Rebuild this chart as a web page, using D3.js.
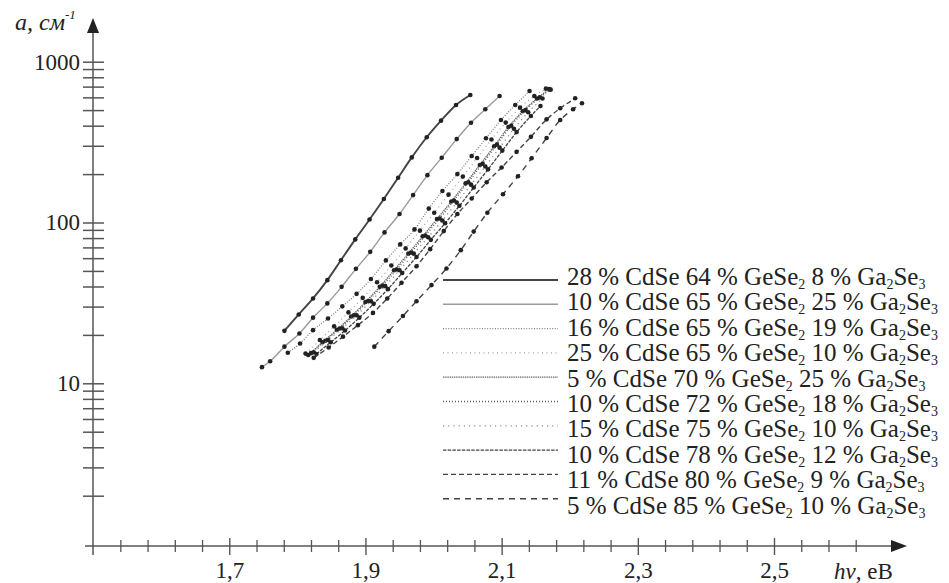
<!DOCTYPE html>
<html>
<head>
<meta charset="utf-8">
<title>absorption edge</title>
<style>
  body { margin: 0; background: #fff; }
</style>
</head>
<body>
<script src="https://d3js.org/d3.v7.min.js"></script>
<script>

var width = 949,
    height = 583;

var serif = '"Liberation Serif", "Times New Roman", Tinos, "DejaVu Serif", "Noto Serif", Times, serif';

// legend labels, "_n" marks a subscript
var labels = [
    "28 % CdSe 64 % GeSe_2 8 % Ga_2Se_3",
    "10 % CdSe 65 % GeSe_2 25 % Ga_2Se_3",
    "16 % CdSe 65 % GeSe_2 19 % Ga_2Se_3",
    "25 % CdSe 65 % GeSe_2 10 % Ga_2Se_3",
    "5 % CdSe 70 % GeSe_2 25 % Ga_2Se_3",
    "10 % CdSe 72 % GeSe_2 18 % Ga_2Se_3",
    "15 % CdSe 75 % GeSe_2 10 % Ga_2Se_3",
    "10 % CdSe 78 % GeSe_2 12 % Ga_2Se_3",
    "11 % CdSe 80 % GeSe_2 9 % Ga_2Se_3",
    "5 % CdSe 85 % GeSe_2 10 % Ga_2Se_3"
];

// photon energy hv (eV) and absorption coefficient a (cm^-1) per sample
var hv1 = [1.781, 1.802, 1.823, 1.844, 1.864, 1.885, 1.906, 1.927, 1.948, 1.968, 1.990, 2.011, 2.033, 2.054];
var a1  = [21.2, 26.8, 33.7, 43.8, 58.3, 78.5, 104.5, 140, 190, 254, 339, 430, 538, 621];

var hv2 = [1.748, 1.760, 1.781, 1.803, 1.823, 1.844, 1.865, 1.886, 1.907, 1.928, 1.950, 1.970, 1.991, 2.012, 2.034, 2.055, 2.076, 2.097];
var a2  = [12.6, 13.7, 16.9, 20.4, 25.6, 31.4, 39.8, 51.5, 65.7, 86.8, 113, 148, 197, 253, 330, 417, 506, 612];

var hv3 = [1.786, 1.804, 1.823, 1.845, 1.866, 1.887, 1.908, 1.930, 1.951, 1.972, 1.993, 2.013, 2.035, 2.056, 2.077, 2.099, 2.120, 2.141];
var a3  = [15.5, 17.7, 21.4, 25.3, 30.1, 36.0, 44.5, 58.1, 73.1, 90.6, 122, 157, 200, 259, 334, 434, 538, 657];

var hv4 = [1.812, 1.833, 1.854, 1.875, 1.896, 1.917, 1.938, 1.959, 1.980, 2.001, 2.022, 2.043, 2.064, 2.085, 2.106, 2.127, 2.148, 2.165];
var a4  = [15.3, 18.6, 22.6, 27.6, 34.0, 42.5, 54, 69, 89, 115, 149, 193, 252, 328, 418, 518, 612, 680];

var hv5 = [1.816, 1.837, 1.858, 1.879, 1.900, 1.921, 1.942, 1.963, 1.984, 2.005, 2.026, 2.047, 2.068, 2.089, 2.110, 2.131, 2.152, 2.170];
var a5  = [15.0, 18.0, 21.5, 26.0, 32.0, 39.8, 50.5, 64, 82, 105, 135, 175, 228, 298, 392, 492, 590, 675];

var hv6 = [1.820, 1.841, 1.862, 1.883, 1.904, 1.925, 1.946, 1.967, 1.988, 2.009, 2.030, 2.051, 2.072, 2.093, 2.114, 2.135, 2.156, 2.172];
var a6  = [15.4, 18.4, 21.9, 26.5, 32.5, 40.5, 51, 65, 83, 106, 137, 178, 232, 305, 400, 500, 600, 670];

var hv7 = [1.824, 1.845, 1.866, 1.887, 1.908, 1.929, 1.950, 1.971, 1.992, 2.013, 2.034, 2.055, 2.076, 2.097, 2.118, 2.139, 2.160];
var a7  = [15.6, 18.6, 22.0, 26.5, 32.4, 40.2, 50.5, 64, 81, 103, 133, 172, 223, 292, 383, 485, 590];

var hv8 = [1.828, 1.849, 1.870, 1.891, 1.912, 1.933, 1.954, 1.975, 1.996, 2.017, 2.038, 2.059, 2.080, 2.101, 2.122, 2.143, 2.157];
var a8  = [15.2, 18.0, 21.3, 25.6, 31.2, 38.5, 48.5, 61, 78, 99, 127, 165, 214, 280, 365, 460, 530];

var hv9 = [1.824, 1.846, 1.867, 1.889, 1.911, 1.932, 1.953, 1.975, 1.995, 2.015, 2.035, 2.056, 2.078, 2.100, 2.122, 2.143, 2.166, 2.186, 2.208];
var a9  = [14.4, 16.7, 19.5, 23.0, 27.4, 33.7, 42.2, 53.5, 68.3, 88.4, 113, 141, 178, 220, 275, 341, 438, 513, 592];

var hv10 = [1.913, 1.934, 1.955, 1.975, 1.997, 2.019, 2.040, 2.059, 2.079, 2.102, 2.124, 2.144, 2.166, 2.186, 2.205, 2.218];
var a10  = [16.9, 21.1, 26.2, 32.4, 40.8, 51.8, 67.3, 87.8, 115, 150, 194, 251, 335, 434, 506, 551];

// axis ticks
var xMajor = [1.7, 1.9, 2.1, 2.3, 2.5];
var xMajorLabels = ["1,7", "1,9", "2,1", "2,3", "2,5"];
var xMinor = [1.54, 1.58, 1.62, 1.66, 1.74, 1.78, 1.82, 1.86, 1.94, 1.98, 2.02, 2.06,
              2.14, 2.18, 2.22, 2.26, 2.34, 2.38, 2.42, 2.46, 2.54, 2.58, 2.62];
var yTicks = [2, 3, 4, 5, 6, 7, 8, 9, 10, 20, 30, 40, 50, 60, 70, 80, 90, 100,
              200, 300, 400, 500, 600, 700, 800, 900, 1000];
var yLabelled = [10, 100, 1000];

var hvs = [hv1, hv2, hv3, hv4, hv5, hv6, hv7, hv8, hv9, hv10];
var alphas = [a1, a2, a3, a4, a5, a6, a7, a8, a9, a10];

// line look for each sample (same order as labels)
var styles = [
    {stroke: '#444',    w: 1.9, dash: null},
    {stroke: '#9a9a9a', w: 1.4, dash: null},
    {stroke: '#808080', w: 1.3, dash: '1,1.6'},
    {stroke: '#a0a0a0', w: 1.2, dash: '1,3.5'},
    {stroke: '#666',    w: 1.3, dash: '1.4,0.8'},
    {stroke: '#5a5a5a', w: 1.3, dash: '1,2'},
    {stroke: '#8a8a8a', w: 1.3, dash: '1.2,4'},
    {stroke: '#444',    w: 1.3, dash: '3.5,1.2'},
    {stroke: '#444',    w: 1.4, dash: '5,3'},
    {stroke: '#444',    w: 1.4, dash: '6,5'}
];

var x0 = 93, xAxisY = 546;

var x = d3.scaleLinear()
    .domain([1.5, 2.5])
    .range([93.1, 774]);

var y = d3.scaleLog()
    .domain([1, 1000])
    .range([544.1, 61.7]);

var svg = d3.select('body').append('svg')
    .attr('width', width)
    .attr('height', height)
    .style('font-family', serif);

var axisColor = '#555';

// y axis
var yAxis = svg.append('g')
    .attr('transform', 'translate(' + x0 + ',0)')
    .call(d3.axisLeft(y)
        .tickValues(yTicks)
        .tickSize(10)
        .tickPadding(3)
        .tickFormat(function (d) { return yLabelled.indexOf(d) >= 0 ? d : ''; }));
yAxis.attr('font-family', null);
yAxis.select('.domain').remove();
yAxis.selectAll('.tick line').attr('x1', 11).attr('stroke', axisColor).attr('stroke-width', 1.5);
yAxis.selectAll('.tick text').attr('font-size', 23).style('font-family', serif).attr('fill', '#222');

// x axis, minor ticks then major ticks
var xMinorAxis = svg.append('g')
    .attr('transform', 'translate(0,' + xAxisY + ')')
    .call(d3.axisBottom(x).tickValues(xMinor).tickSize(6).tickFormat(''));
xMinorAxis.select('.domain').remove();
xMinorAxis.selectAll('.tick line').attr('y1', -6).attr('stroke', axisColor).attr('stroke-width', 1.3);

var xAxis = svg.append('g')
    .attr('transform', 'translate(0,' + xAxisY + ')')
    .call(d3.axisBottom(x)
        .tickValues(xMajor)
        .tickSize(9)
        .tickFormat(function (d, i) { return xMajorLabels[i]; }));
xAxis.attr('font-family', null);
xAxis.select('.domain').remove();
xAxis.selectAll('.tick line').attr('y1', -8).attr('stroke', axisColor).attr('stroke-width', 1.4);
xAxis.selectAll('.tick text')
    .attr('y', 32).attr('dy', 0)
    .attr('font-size', 23).style('font-family', serif).attr('fill', '#222');

// axis lines with arrow heads
svg.append('line')
    .attr('x1', 85).attr('x2', 893).attr('y1', xAxisY).attr('y2', xAxisY)
    .attr('stroke', axisColor).attr('stroke-width', 1.5);
svg.append('path')
    .attr('d', 'M907,' + xAxisY + 'L891,' + (xAxisY - 6) + 'L891,' + (xAxisY + 6) + 'Z')
    .attr('fill', '#222');
svg.append('line')
    .attr('x1', x0).attr('x2', x0).attr('y1', 555).attr('y2', 30)
    .attr('stroke', axisColor).attr('stroke-width', 1.5);
svg.append('path')
    .attr('d', 'M' + x0 + ',18L' + (x0 - 6) + ',33L' + (x0 + 6) + ',33Z')
    .attr('fill', '#222');

// axis titles
var yt = svg.append('text')
    .attr('x', 15).attr('y', 30)
    .attr('font-size', 24).attr('font-style', 'italic')
    .attr('fill', '#222');
yt.append('tspan').text('a, см');
yt.append('tspan').attr('dy', -11).attr('font-size', 13).text('-1');

var xt = svg.append('text')
    .attr('x', 834).attr('y', 579)
    .attr('font-size', 23)
    .attr('fill', '#222');
xt.append('tspan').attr('font-style', 'italic').text('hν,');
xt.append('tspan').text(' еВ');

// curves
var line = d3.line()
    .x(function (d) { return x(d[0]); })
    .y(function (d) { return y(d[1]); })
    .curve(d3.curveMonotoneX);

var series = hvs.map(function (h, i) {
    return h.map(function (v, j) { return [v, alphas[i][j]]; });
});

var curves = svg.append('g');
series.forEach(function (pts, i) {
    var s = styles[i];
    curves.append('path')
        .attr('d', line(pts))
        .attr('fill', 'none')
        .attr('stroke', s.stroke)
        .attr('stroke-width', s.w)
        .attr('stroke-dasharray', s.dash);
    curves.selectAll('.dot' + i)
        .data(pts)
        .enter().append('circle')
        .attr('cx', function (d) { return x(d[0]); })
        .attr('cy', function (d) { return y(d[1]); })
        .attr('r', 2.3)
        .attr('fill', '#222');
});

// legend
var legend = svg.append('g');
labels.forEach(function (lab, i) {
    var s = styles[i],
        ly = 280 + i * 24.3;
    legend.append('line')
        .attr('x1', 443).attr('x2', 558)
        .attr('y1', ly).attr('y2', ly)
        .attr('stroke', s.stroke)
        .attr('stroke-width', s.w)
        .attr('stroke-dasharray', s.dash);

    var t = legend.append('text')
        .attr('x', 567).attr('y', 285 + i * 25.4)
        .attr('font-size', 25)
        .attr('fill', '#222');
    var parts = lab.split(/_(\d)/);
    parts.forEach(function (p, k) {
        if (!p) return;
        if (k % 2) t.append('tspan').attr('dy', 4).attr('font-size', 14).text(p);
        else t.append('tspan').attr('dy', k ? -4 : 0).text(p);
    });
});

</script>
</body>
</html>
